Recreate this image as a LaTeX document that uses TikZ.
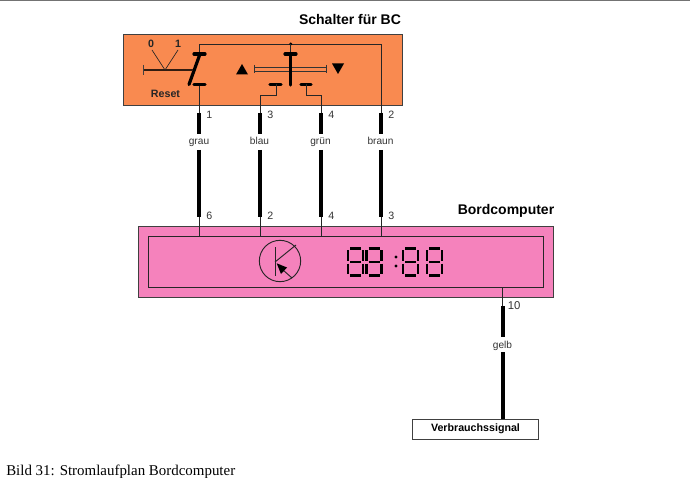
\documentclass[tikz,border=0pt]{standalone}
\usepackage{fontspec}
\setmainfont{Liberation Sans}
\newfontfamily\serifcap{Liberation Serif}
\usetikzlibrary{arrows.meta}
\definecolor{orangebox}{HTML}{F98A50}
\definecolor{pinkbox}{HTML}{F582BC}
\definecolor{txtgrey}{HTML}{333333}
\tikzset{
  wirethin/.style={draw=black!85,line width=0.6pt},
  wirethick/.style={draw=black,line width=3pt},
  barstyle/.style={draw=black,line width=2.4pt,line cap=round},
  pinlbl/.style={font=\fontsize{8}{9}\selectfont,text=txtgrey,inner sep=0pt,anchor=west},
  colorlbl/.style={font=\fontsize{7.6}{9}\selectfont,text=txtgrey,inner sep=0pt,anchor=base},
  title/.style={font=\bfseries\fontsize{10.5}{12}\selectfont,inner sep=0pt},
  seg/.style={draw=black,line width=2.1pt},
}
\newcommand{\digiteight}[1]{%
  \begin{scope}[shift={(#1,0)}]
    \draw[seg] (2,248.5) -- (13,248.5) (2,262) -- (13,262) (2,275.5) -- (13,275.5);
    \draw[seg] (0,250) -- (0,260.5) (0,263.5) -- (0,274) (15,250) -- (15,260.5) (15,263.5) -- (15,274);
  \end{scope}}
\begin{document}
\begin{tikzpicture}[x=0.75pt,y=-0.75pt]
\useasboundingbox (0,0) rectangle (690,478);
\draw[draw=black!55,line width=0.9pt] (0,0.5) -- (690,0.5);

% boxes
\node[draw=black!75,fill=orangebox,line width=0.7pt,minimum width=209pt,minimum height=53pt,inner sep=0pt,anchor=north west] (sw) at (123,34.5) {};
\node[draw=black!75,fill=pinkbox,line width=0.7pt,minimum width=311.5pt,minimum height=53pt,inner sep=0pt,anchor=north west] (bc) at (138,226) {};
\node[draw=black!85,line width=0.7pt,minimum width=296pt,minimum height=38pt,inner sep=0pt,anchor=north west] (inner) at (148,236) {};
\node[draw=black!75,fill=white,line width=0.7pt,minimum width=94.5pt,minimum height=15pt,inner sep=0pt,anchor=north west,font=\bfseries\fontsize{8}{9}\selectfont] (vs) at (412,418.5) {Verbrauchssignal};

\node[title] (t1) at (350,19) {Schalter für BC};
\node[title] (t2) at (506,211) {Bordcomputer};
\node[font=\bfseries\fontsize{8}{9}\selectfont,text=black!85,inner sep=0pt] (rst) at (165.5,94) {Reset};

% colour labels
\node[colorlbl] (cgrau) at (199,145) {grau};
\node[colorlbl] (cblau) at (259.5,145) {blau};
\node[colorlbl] (cgruen) at (320.5,145) {grün};
\node[colorlbl] (cbraun) at (380.5,145) {braun};
\node[colorlbl] (cgelb) at (502.5,348) {gelb};

% junction coordinates
\coordinate (r1) at (199,113);
\coordinate (r2) at (260,113);
\coordinate (r3) at (321,113);
\coordinate (r4) at (381,113);
\coordinate (b1) at (199,217);
\coordinate (b2) at (260,217);
\coordinate (b3) at (321,217);
\coordinate (b4) at (381,217);
\coordinate (top1) at (199,44);
\coordinate (top4) at (381,44);
\coordinate (dot) at (290.7,44);

% thick wires
\foreach \a/\b in {r1/b1,r2/b2,r3/b3,r4/b4}{
  \draw[wirethick] (\a) -- (\a |- 0,134);
  \draw[wirethick] (\b |- 0,150) -- (\b);
  \draw[wirethin] (\b) -- (\b |- 0,236);
}
\coordinate (o5) at (502.5,287);
\coordinate (t5) at (502.5,306);
\draw[wirethin] (o5) -- (t5);
\draw[wirethick] (t5) -- (502.5,337);
\draw[wirethick] (502.5,352) -- (vs.north -| t5);

% pin numbers
\node[pinlbl] (p1) at (206,114.5) {1};
\node[pinlbl] (p2) at (267,114.5) {3};
\node[pinlbl] (p3) at (328,114.5) {4};
\node[pinlbl] (p4) at (388,114.5) {2};
\node[pinlbl] (p5) at (206,216) {6};
\node[pinlbl] (p6) at (267,216) {2};
\node[pinlbl] (p7) at (328,216) {4};
\node[pinlbl] (p8) at (388,216) {3};
\node[pinlbl,font=\fontsize{8.5}{10}\selectfont] (p9) at (507.5,306) {10};

% switch internals
\draw[wirethin] (r1) -- (199,84) (199,54) -- (top1) -- (top4) -- (r4);
\fill (dot) circle (1.7);
\draw[wirethin] (dot) -- (290.7,54);
\draw[barstyle] (194,54) -- (205,54);
\draw[barstyle] (194,84.3) -- (205,84.3);
\draw[barstyle] (200,54) -- (189,84.5);
% reset lever
\draw[draw=black!75,line width=0.6pt] (143.5,65) -- (143.5,75);
\draw[draw=black!80!orangebox,line width=1.6pt] (143.5,70) -- (193,70);
\draw[draw=black!85,line width=0.5pt] (152,50) -- (165,70) -- (178,50);
\node[font=\bfseries\fontsize{8}{9}\selectfont,text=black!85,inner sep=0pt] (n0) at (151,43.5) {0};
\node[font=\bfseries\fontsize{8}{9}\selectfont,text=black!85,inner sep=0pt] (n1) at (178,43.5) {1};
% up/down switch
\draw[draw=black!80,line width=0.5pt] (254.5,65) -- (254.5,73) (326,65) -- (326,73);
\draw[draw=black!80,line width=0.5pt] (254.5,67.5) -- (326,67.5) (254.5,71) -- (326,71);
\draw[barstyle] (285,54) -- (296,54);
\draw[draw=black,line width=2.4pt,line cap=round] (290.7,54) -- (290.7,85);
\draw[barstyle] (270,84.3) -- (281,84.3);
\draw[barstyle] (301,84.3) -- (311,84.3);
\draw[wirethin] (276,84.3) -- (276,95) -- (260,95) -- (r2);
\draw[wirethin] (306,84.3) -- (306,95) -- (321,95) -- (r3);
\fill (236,74.5) -- (248,74.5) -- (242,64) -- cycle;
\fill (332,63.5) -- (344,63.5) -- (338,74) -- cycle;

% transistor
\node[draw=black!85,circle,line width=0.7pt,minimum size=31pt,inner sep=0pt] (tr) at (280,261) {};
\draw[draw=black!85,line width=0.7pt] (275,247) -- (275,276);
\draw[draw=black!85,line width=0.7pt] (275,262) -- (296,245);
\draw[draw=black!85,line width=0.7pt] (292,278) -- (283,270);
\fill (276.7,263.3) -- (287,267.5) -- (281,274) -- cycle;

% seven-segment digits
\digiteight{348}
\digiteight{366.5}
\digiteight{403}
\digiteight{427}
\fill (396,257) circle (1.7);
\fill (396,266) circle (1.7);

% caption
\node[font=\serifcap\fontsize{11.2}{13}\selectfont,inner sep=0pt,anchor=west] (cap) at (6,472) {Bild 31: Stromlaufplan Bordcomputer};
\end{tikzpicture}
\end{document}
